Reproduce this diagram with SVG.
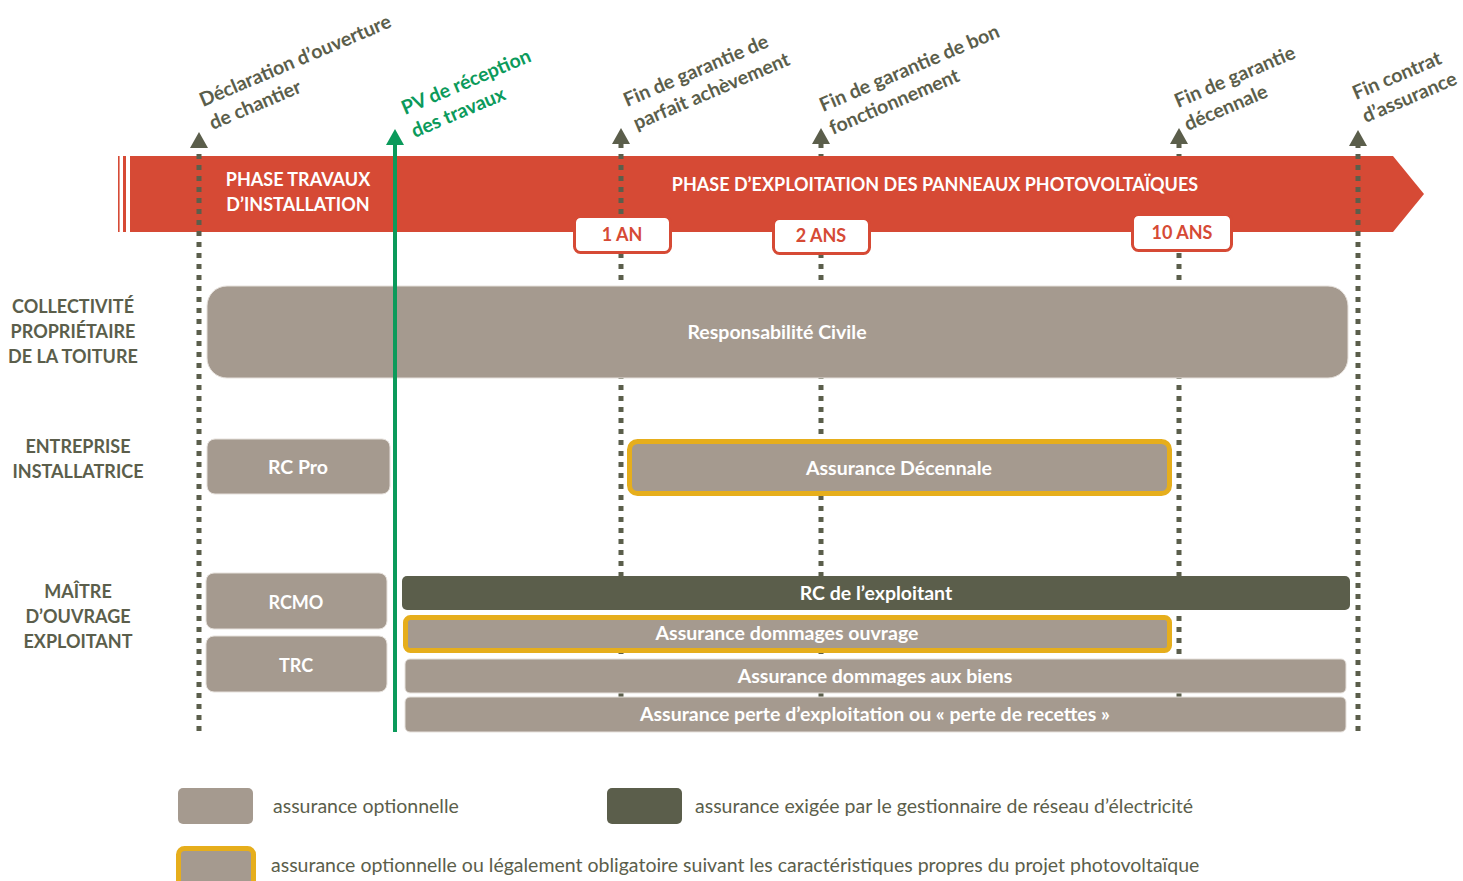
<svg xmlns="http://www.w3.org/2000/svg" width="1463" height="881" viewBox="0 0 1463 881">
<style>
.lbl{font-family:Lato,"Open Sans",sans-serif;font-weight:700;font-size:19.5px;fill:#5B5E4B}
.grn{fill:#0B9A5B}
.side{font-family:Lato,"Open Sans",sans-serif;font-weight:700;font-size:18px;fill:#5B5E4B;text-anchor:middle}
.ban{font-family:Lato,"Open Sans",sans-serif;font-weight:700;font-size:18px;fill:#fff;text-anchor:middle}
.yr{font-family:Lato,"Open Sans",sans-serif;font-weight:700;font-size:18px;fill:#D64A35;text-anchor:middle}
.bt{font-family:Lato,"Open Sans",sans-serif;font-weight:700;font-size:19.5px;fill:#fff;text-anchor:middle}
.bc{font-size:18px}
.leg{font-family:Lato,"Open Sans",sans-serif;font-weight:400;font-size:19.5px;fill:#5B5E4B}
.dot{stroke:#5B5E4B;stroke-width:5;stroke-dasharray:5 6;fill:none;marker-end:url(#ah)}
.box{fill:#A59A8F;stroke:#E6E1DC;stroke-width:1}
.opt{fill:#A59A8F;stroke:#E6AE1C;stroke-width:5}
.yb{fill:#fff;stroke:#D64A35;stroke-width:3}
</style>
<defs>
<marker id="ah" viewBox="0 0 16 18" refX="0" refY="9" markerWidth="16" markerHeight="18" markerUnits="userSpaceOnUse" orient="auto"><path d="M0,0 L16,9 L0,18 z" fill="#5B5E4B"/></marker>
<marker id="ahg" viewBox="0 0 16 18" refX="0" refY="9" markerWidth="16" markerHeight="18" markerUnits="userSpaceOnUse" orient="auto"><path d="M0,0 L16,9 L0,18 z" fill="#0B9A5B"/></marker>
</defs>

<g id="connectors-back">
<path class="dot" d="M821,731 V144"/>
<path class="dot" d="M1179,731 V144"/>
</g>

<g id="banner">
<rect x="118" y="156" width="1.6" height="76" fill="#D64A35"/>
<rect x="123" y="156" width="3" height="76" fill="#D64A35"/>
<path d="M130,156 H1393 L1424,194 L1393,232 H130 z" fill="#D64A35"/>
<text class="ban" x="298" y="186">PHASE TRAVAUX</text>
<text class="ban" x="298" y="211">D’INSTALLATION</text>
<text class="ban" x="935" y="191">PHASE D’EXPLOITATION DES PANNEAUX PHOTOVOLTAÏQUES</text>
</g>

<g id="connectors">
<path class="dot" d="M199,731 V148"/>
<path class="dot" d="M621,731 V144"/>
<path class="dot" d="M1358,731 V146"/>
</g>

<g id="milestone-labels">
<text class="lbl" transform="translate(203,107) rotate(-23)">Déclaration d’ouverture<tspan x="0" dy="25">de chantier</tspan></text>
<text class="lbl grn" transform="translate(405,115) rotate(-23)">PV de réception<tspan x="0" dy="25">des travaux</tspan></text>
<text class="lbl" transform="translate(627,107) rotate(-23)">Fin de garantie de<tspan x="0" dy="25">parfait achèvement</tspan></text>
<text class="lbl" transform="translate(823,112) rotate(-23)">Fin de garantie de bon<tspan x="0" dy="25">fonctionnement</tspan></text>
<text class="lbl" transform="translate(1178,108) rotate(-23)">Fin de garantie<tspan x="0" dy="25">décennale</tspan></text>
<text class="lbl" transform="translate(1356,100) rotate(-23)">Fin contrat<tspan x="0" dy="25">d’assurance</tspan></text>
</g>

<g id="year-1">
<rect class="yb" x="574.5" y="216.5" width="96" height="36" rx="6"/>
<text class="yr" x="622" y="241">1 AN</text>
</g>
<g id="year-2">
<rect class="yb" x="773.5" y="218.5" width="96" height="35" rx="6"/>
<text class="yr" x="821" y="242">2 ANS</text>
</g>
<g id="year-10">
<rect class="yb" x="1132.5" y="214.5" width="99" height="36" rx="6"/>
<text class="yr" x="1182" y="239">10 ANS</text>
</g>

<g id="side-labels">
<text class="side" x="73" y="313">COLLECTIVITÉ</text>
<text class="side" x="73" y="338">PROPRIÉTAIRE</text>
<text class="side" x="73" y="363">DE LA TOITURE</text>
<text class="side" x="78" y="453">ENTREPRISE</text>
<text class="side" x="78" y="478">INSTALLATRICE</text>
<text class="side" x="78" y="598">MAÎTRE</text>
<text class="side" x="78" y="623">D’OUVRAGE</text>
<text class="side" x="78" y="648">EXPLOITANT</text>
</g>

<g id="rc-civile">
<rect class="box" x="207" y="286" width="1141" height="92" rx="20"/>
<text class="bt" x="777" y="339">Responsabilité Civile</text>
</g>
<g id="rc-pro">
<rect class="box" x="207" y="439" width="183" height="55" rx="8"/>
<text class="bt" x="298" y="474">RC Pro</text>
</g>
<g id="decennale">
<rect class="opt" x="629.5" y="441.5" width="540" height="52" rx="8"/>
<text class="bt" x="899" y="475">Assurance Décennale</text>
</g>
<g id="rcmo">
<rect class="box" x="206" y="573" width="181" height="56" rx="8"/>
<text class="bt bc" x="296" y="609">RCMO</text>
</g>
<g id="trc">
<rect class="box" x="206" y="636" width="181" height="56" rx="8"/>
<text class="bt bc" x="296" y="672">TRC</text>
</g>
<g id="rc-exploitant">
<rect x="402" y="576" width="948" height="34" rx="5" fill="#5B5E4B"/>
<text class="bt" x="876" y="600">RC de l’exploitant</text>
</g>
<g id="dommages-ouvrage">
<rect class="opt" x="405.5" y="617.5" width="764" height="33" rx="5"/>
<text class="bt" x="787" y="640">Assurance dommages ouvrage</text>
</g>
<g id="dommages-biens">
<rect class="box" x="405" y="659" width="941" height="34" rx="5"/>
<text class="bt" x="875" y="683">Assurance dommages aux biens</text>
</g>
<g id="perte-exploitation">
<rect class="box" x="405" y="697" width="941" height="35" rx="5"/>
<text class="bt" x="875" y="721">Assurance perte d’exploitation ou « perte de recettes »</text>
</g>

<g id="pv-reception">
<path d="M395,732 V145" stroke="#0B9A5B" stroke-width="4" fill="none" marker-end="url(#ahg)"/>
</g>

<g id="legend">
<rect x="178" y="788" width="75" height="36" rx="5" fill="#A59A8F"/>
<text class="leg" x="273" y="813">assurance optionnelle</text>
<rect x="607" y="788" width="75" height="36" rx="5" fill="#5B5E4B"/>
<text class="leg" x="695" y="813">assurance exigée par le gestionnaire de réseau d’électricité</text>
<rect class="opt" x="178.5" y="848.5" width="75" height="38" rx="6"/>
<text class="leg" x="271" y="872">assurance optionnelle ou légalement obligatoire suivant les caractéristiques propres du projet photovoltaïque</text>
</g>
</svg>
